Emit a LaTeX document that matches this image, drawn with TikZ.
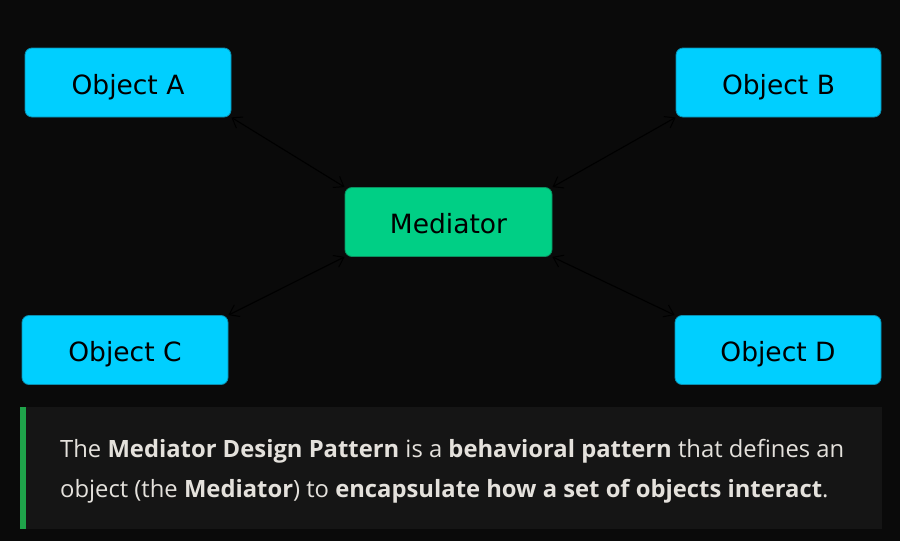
\documentclass[tikz,border=0pt]{standalone}
\usepackage{fontspec}
\setmainfont{Open Sans}
\newfontfamily\boxfont{DejaVu Sans}
\usetikzlibrary{arrows.meta}
\definecolor{pagebg}{HTML}{0A0A0A}
\definecolor{notebg}{HTML}{151515}
\definecolor{notebar}{HTML}{1FA34A}
\definecolor{notetext}{HTML}{E4E1DC}
\definecolor{objfill}{HTML}{00CFFF}
\definecolor{objline}{HTML}{0A8FB0}
\definecolor{medfill}{HTML}{00CF85}
\definecolor{medline}{HTML}{0A9060}
\tikzset{
  objbox/.style={rectangle, rounded corners=7pt, fill=objfill, draw=objline, line width=0.8pt,
    minimum width=206pt, minimum height=69pt, inner sep=0pt, text height=23pt, text depth=0pt,
    font=\boxfont\fontsize{26.5}{30}\selectfont, text=black},
  medbox/.style={objbox, fill=medfill, draw=medline, minimum width=207pt},
  link/.style={draw=black, line width=1.1pt,
    {Straight Barb[length=9pt,width=13pt,line width=1pt]}-{Straight Barb[length=9pt,width=13pt,line width=1pt]}},
  notetxt/.style={anchor=base west, inner sep=0pt, text=notetext, font=\fontsize{23.8}{28}\selectfont}
}
\begin{document}
\begin{tikzpicture}[x=1pt,y=-1pt]
  % page and note panel
  \fill[pagebg] (0,0) rectangle (900,541);
  \useasboundingbox (0,0) rectangle (900,541);
  \fill[notebg] (20,407) rectangle (882,529);
  \fill[notebar] (20,407) rectangle (26,529);

  % participants
  \node[objbox] (A) at (128,82.5) {Object A};
  \node[objbox, minimum width=205pt] (B) at (778.5,82.5) {Object B};
  \node[medbox] (M) at (448.5,222) {Mediator};
  \node[objbox] (C) at (125,350) {Object C};
  \node[objbox] (D) at (778,350) {Object D};

  % two-way links through the mediator
  \draw[link] (A.south east) -- (M.north west);
  \draw[link] (B.south west) -- (M.north east);
  \draw[link] (C.north east) -- (M.south west);
  \draw[link] (D.north west) -- (M.south east);

  % description
  \node[notetxt] (L1) at (60,457) {The \textbf{Mediator Design Pattern} is a \textbf{behavioral pattern} that defines an};
  \node[notetxt] (L2) at (60,497) {object (the \textbf{Mediator}) to \textbf{encapsulate how a set of objects interact}.};
\end{tikzpicture}
\end{document}
